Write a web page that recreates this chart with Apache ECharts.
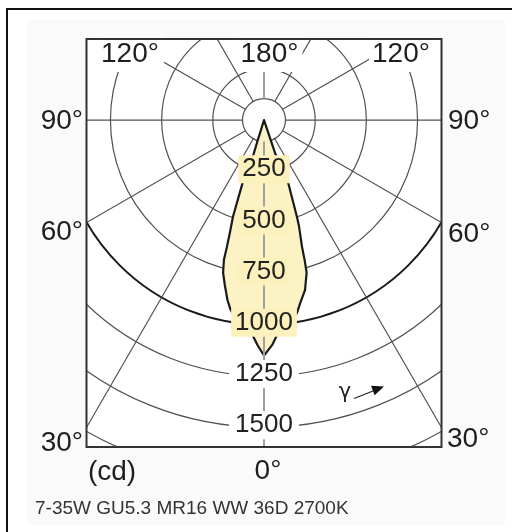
<!DOCTYPE html>
<html><head><meta charset="utf-8">
<script src="https://cdn.jsdelivr.net/npm/echarts@6/dist/echarts.min.js"></script>
<style>html,body{margin:0;padding:0;background:#fff}#c{width:512px;height:532px}</style>
</head><body><div id="c"></div>
<script>
// ---- data ----
const circleValues = [250, 500, 750, 1000, 1250, 1500, 1750];
const boldCircle = 1000;
const radialAngles = [-150, -120, -90, -60, -30, 30, 60, 90, 120, 150];
const axisAngles = [0, 180];
const innerCircleCd = 105;
const tickLabels = [250, 500, 750, 1000, 1250, 1500];
// beam outline (gamma in degrees from nadir, intensity in cd)
const beamRightGamma = [18.6, 18.6, 21.0, 18.8, 18.2, 16.7, 16.2, 15.6, 13.6, 11.4, 9.7, 7.2, 4.6, 3.5, 2.1, 0];
const beamRightCd    = [112, 179, 334, 499, 549, 646, 711, 774, 853, 906, 955, 1014, 1039, 1051, 1099, 1150];
const beamLeftGamma  = [-1.7, -3.1, -4.8, -6.6, -10.0, -11.5, -13.4, -15.0, -16.0, -16.3, -16.9, -17.8, -18.8, -17.0, -17.2];
const beamLeftCd     = [1098, 1050, 1036, 1013, 941, 896, 827, 772, 710, 645, 570, 496, 329, 179, 111];
const angleTexts = ['120°', '180°', '120°', '90°', '90°', '60°', '60°', '30°', '30°', '0°', '(cd)'];
const caption = '7-35W GU5.3 MR16 WW 36D 2700K';

// ---- layout ----
const G = {left:86.5, top:39, width:355, height:408};
const angleLayout = [
  {x:131.5, y:54, a:'center', pad:[0,5,8,2], bg:'#fff'},
  {x:270, y:54, a:'center', pad:[0,4,8,3], bg:'#fff'},
  {x:401.5, y:54, a:'center', pad:[0,4,8,3], bg:'#fff'},
  {x:83, y:121, a:'right'}, {x:448, y:121, a:'left'},
  {x:83, y:232, a:'right'}, {x:448, y:234, a:'left'},
  {x:83, y:443, a:'right'}, {x:447, y:439, a:'left'},
  {x:268, y:471, a:'center'}, {x:112, y:472, a:'center'}
];

const chart = echarts.init(document.getElementById('c'));
const rad = g => g * Math.PI / 180;
function polar(api, g, I) { return api.coord([I * Math.sin(rad(g)), -I * Math.cos(rad(g))]); }

const graphics = [
  {type:'rect', z:-10, shape:{x:27, y:20, width:478, height:505}, style:{fill:'#fafafa'}},
  {type:'line', z:50, shape:{x1:6, y1:9, x2:512, y2:9}, style:{stroke:'#111', lineWidth:2}},
  {type:'line', z:50, shape:{x1:7, y1:8, x2:7, y2:532}, style:{stroke:'#111', lineWidth:2}},
  {type:'rect', z:200, shape:{x:G.left, y:G.top, width:G.width, height:G.height}, style:{fill:'none', stroke:'#333', lineWidth:2}},
  {type:'text', z:100, x:35, y:509, style:{text:caption, fill:'#333', font:'19px "Liberation Sans"', textAlign:'left', align:'left', textVerticalAlign:'middle', verticalAlign:'middle'}},
  {type:'text', z:100, x:345, y:393, style:{text:'γ', fill:'#222', font:'21px "DejaVu Sans"', textAlign:'center', align:'center', textVerticalAlign:'middle', verticalAlign:'middle'}},
  {type:'line', z:100, shape:{x1:354, y1:398.5, x2:373, y2:391}, style:{stroke:'#222', lineWidth:1.3}},
  {type:'polygon', z:100, shape:{points:[[384,386.5],[374.6,395.3],[371,385.8]]}, style:{fill:'#111'}}
];
angleTexts.forEach((t, i) => {
  const L = angleLayout[i];
  const st = {text:t, fill:'#1e1e1e', font:'28px "Liberation Sans"', textAlign:L.a, align:L.a, textVerticalAlign:'middle', verticalAlign:'middle'};
  if (L.bg) { st.backgroundColor = L.bg; st.padding = L.pad; }
  graphics.push({type:'text', z:100, x:L.x, y:L.y, style:st});
});

chart.setOption({
  animation:false,
  backgroundColor:'#fff',
  grid:{left:G.left, top:G.top, width:G.width, height:G.height, show:true, backgroundColor:'#fff', borderWidth:0},
  xAxis:{type:'value', min:-867, max:867, show:false},
  yAxis:{type:'value', min:-1597, max:396, show:false},
  graphic:graphics,
  series:[
    {type:'custom', clip:true, silent:true, z:2, data:circleValues.map(v => [v, 0]), encode:{x:0, y:1},
     renderItem(p, api){
       const v = api.value(0); const c = api.coord([0,0]); const r = api.coord([v,0])[0] - c[0];
       const b = v === boldCircle;
       return {type:'circle', shape:{cx:c[0], cy:c[1], r:r}, style:{fill:'none', stroke:b?'#1a1a1a':'#505050', lineWidth:b?2:1.2}};
     }},
    {type:'custom', clip:true, silent:true, z:3, data:radialAngles.map(a => [a, 0]), encode:{x:0, y:1},
     renderItem(p, api){
       const g = api.value(0); const a = polar(api, g, innerCircleCd); const b = polar(api, g, 3000);
       return {type:'line', shape:{x1:a[0], y1:a[1], x2:b[0], y2:b[1]}, style:{stroke:'#505050', lineWidth:1.2}};
     }},
    {type:'custom', clip:true, silent:true, z:4, data:[[innerCircleCd, 0]], encode:{x:0, y:1},
     renderItem(p, api){
       const c = api.coord([0,0]); const r = api.coord([api.value(0),0])[0] - c[0];
       return {type:'circle', shape:{cx:c[0], cy:c[1], r:r}, style:{fill:'#fff', stroke:'#505050', lineWidth:1.2}};
     }},
    {type:'custom', clip:true, silent:true, z:5, data:[[0, 0]], encode:{x:0, y:1},
     renderItem(p, api){
       const pts = [polar(api, 0, 0)];
       beamRightGamma.forEach((g, i) => pts.push(polar(api, g, beamRightCd[i])));
       beamLeftGamma.forEach((g, i) => pts.push(polar(api, g, beamLeftCd[i])));
       return {type:'polygon', shape:{points:pts}, style:{fill:'#fcf3c4', stroke:'#1a1a1a', lineWidth:2.2, lineJoin:'round'}};
     }},
    {type:'custom', clip:true, silent:true, z:6, data:axisAngles.map(a => [a, 0]), encode:{x:0, y:1},
     renderItem(p, api){
       const g = api.value(0); const a = polar(api, g, innerCircleCd); const b = polar(api, g, 3000);
       return {type:'line', shape:{x1:a[0], y1:a[1], x2:b[0], y2:b[1]}, style:{stroke:'#a0a0a0', lineWidth:2}};
     }},
    {type:'custom', clip:false, silent:true, z:7, data:tickLabels.map(v => [0, -v]), encode:{x:0, y:1},
     renderItem(p, api){
       const v = -api.value(1); const c = api.coord([0, -v]);
       const inBeam = v <= 1000;
       return {type:'text', x:c[0], y:c[1] - 2, style:{text:String(v), fill:'#222', font:'26px "Liberation Sans"',
         textAlign:'center', align:'center', textVerticalAlign:'middle', verticalAlign:'middle',
         backgroundColor: inBeam ? '#fcf1bc' : '#fff', padding: inBeam ? [1,4,1,4] : [1,6,1,6]}};
     }}
  ]
});
</script></body></html>
